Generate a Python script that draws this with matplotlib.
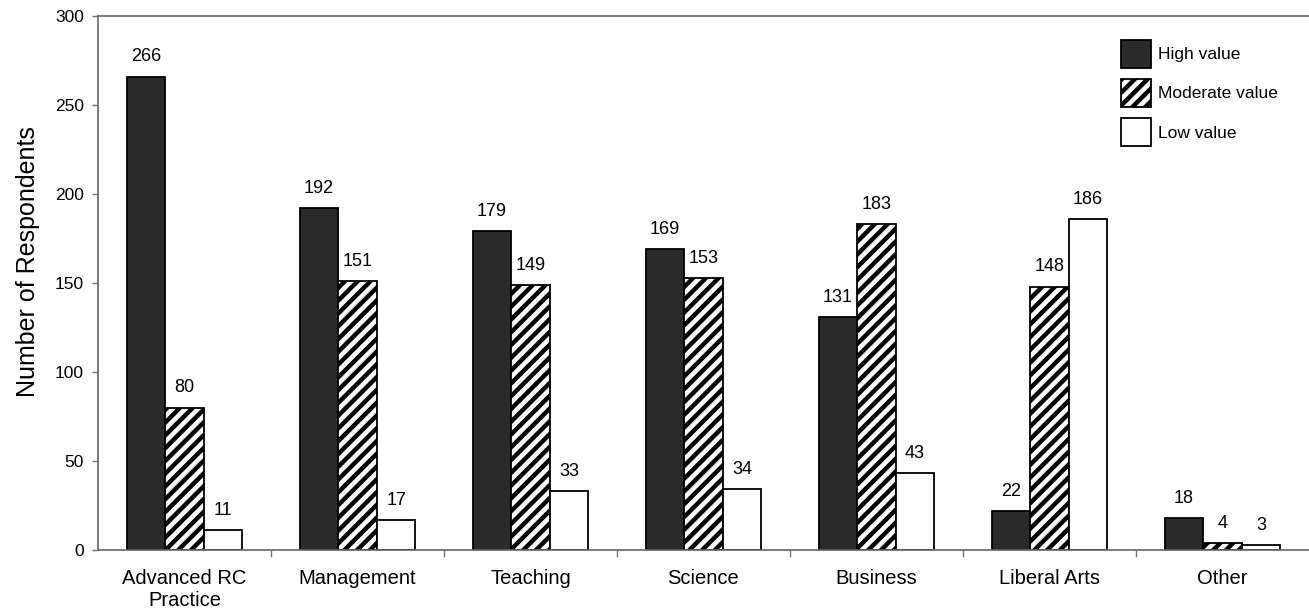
import matplotlib
matplotlib.use("Agg")
import matplotlib.pyplot as plt
import numpy as np
from matplotlib.patches import Patch

categories = ["Advanced RC\nPractice", "Management", "Teaching", "Science",
              "Business", "Liberal Arts", "Other"]
high = [266, 192, 179, 169, 131, 22, 18]
moderate = [80, 151, 149, 153, 183, 148, 4]
low = [11, 17, 33, 34, 43, 186, 3]
series_names = ["High value", "Moderate value", "Low value"]

DPI = 115
S = 100.0 / DPI  # keep pixel sizes as designed for 100 dpi

plt.rcParams['font.family'] = ['Liberation Sans', 'DejaVu Sans']
plt.rcParams['hatch.linewidth'] = 3.2 * S

fig = plt.figure(figsize=(1309 / DPI, 613 / DPI), dpi=DPI)
ax = fig.add_axes([98/1309, 1 - 550/613, 1 - 98/1309, (550 - 16)/613])

x = np.arange(len(categories))
w = 0.223
dark = "#2a2a2a"
styles = [dict(color=dark, hatch=None),
          dict(color="white", hatch="///"),
          dict(color="white", hatch=None)]
for i, (vals, st) in enumerate(zip([high, moderate, low], styles)):
    bars = ax.bar(x + (i - 1) * w, vals, w, facecolor=st["color"],
                  edgecolor="black", hatch=st["hatch"], linewidth=1.3 * S)
    for b, v in zip(bars, vals):
        ax.annotate(str(v), (b.get_x() + b.get_width() / 2, v),
                    xytext=(0, 8 * S), textcoords="offset points",
                    ha="center", va="bottom", fontsize=13 * S)

ax.set_xlim(-0.5, len(categories) - 0.5)
ax.set_ylim(0, 300)
ax.set_yticks(np.arange(0, 301, 50))
ax.tick_params(axis='y', labelsize=12.5 * S, length=4 * S, width=1.0 * S,
               pad=6 * S, color="#777777")
ax.set_xticks(x)
ax.set_xticklabels(categories, fontsize=14.5 * S)
ax.tick_params(axis='x', length=0, pad=14 * S)
ax.set_xticks(np.arange(0.5, len(categories) - 0.5, 1), minor=True)
ax.tick_params(axis='x', which='minor', length=5 * S, width=1.0 * S,
               color="#777777")
for s in ["left", "bottom", "top"]:
    ax.spines[s].set_color("#666666")
    ax.spines[s].set_linewidth(1.2 * S)
ax.spines["right"].set_visible(False)
ax.set_ylabel("Number of Respondents", fontsize=18 * S)
ax.yaxis.set_label_coords(-0.048, 0.54)

handles = [Patch(facecolor=st["color"], edgecolor="black", hatch=st["hatch"],
                 linewidth=1.3 * S) for st in styles]
leg = ax.legend(handles, series_names, loc="upper right",
                bbox_to_anchor=(0.987, 0.985), frameon=False,
                fontsize=12.5 * S,
                handlelength=1.7, handleheight=2.1, labelspacing=0.65,
                handletextpad=0.4)

fig.savefig("out.png", dpi=DPI)
